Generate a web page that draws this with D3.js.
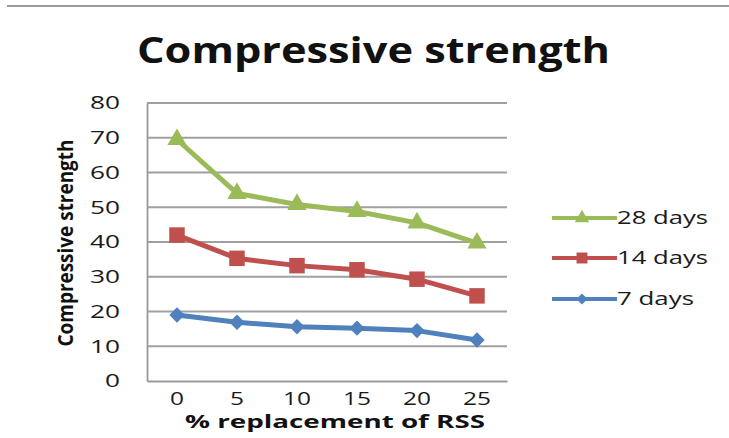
<!DOCTYPE html>
<html>
<head>
<meta charset="utf-8">
<script src="https://cdn.jsdelivr.net/npm/d3@7"></script>
<style>
  html, body { margin: 0; padding: 0; background: #fff; }
  svg { display: block; }
  text { font-family: "Open Sans", sans-serif; fill: #222; }
</style>
</head>
<body>
<svg id="chart" width="729" height="438"></svg>
<script>
// Compressive strength vs % replacement of RSS
const categories = ["0", "5", "10", "15", "20", "25"];
const days7  = [19, 16.9, 15.6, 15.2, 14.5, 11.8];
const days14 = [42, 35.3, 33.2, 32, 29.3, 24.5];
const days28 = [69.5, 54, 50.8, 48.8, 45.5, 39.7];
const yTicks = [0, 10, 20, 30, 40, 50, 60, 70, 80];
const seriesNames = ["28 days", "14 days", "7 days"];

const series = [
  { name: seriesNames[0], values: days28, color: "#9BBB59", marker: "triangle" },
  { name: seriesNames[1], values: days14, color: "#C0504D", marker: "square" },
  { name: seriesNames[2], values: days7,  color: "#4F81BD", marker: "diamond" }
];

const svg = d3.select("#chart");
const plot = { left: 147, right: 507, top: 103, bottom: 381 };

const x = d3.scaleBand().domain(categories).range([plot.left, plot.right]);
const y = d3.scaleLinear().domain([0, 80]).range([plot.bottom, plot.top]);

// digits are set wide, so each label gets a fixed advance per character
const widen = (sel, perChar) =>
  sel.attr("textLength", d => String(d).length * perChar)
     .attr("lengthAdjust", "spacingAndGlyphs");

// thin rule across the top
svg.append("line")
  .attr("x1", 7).attr("x2", 729).attr("y1", 6).attr("y2", 6)
  .attr("stroke", "#9a9a9a").attr("stroke-width", 2);

// title
svg.append("text")
  .attr("x", 137).attr("y", 63)
  .attr("font-size", 36).attr("font-weight", "bold")
  .attr("textLength", 473).attr("lengthAdjust", "spacingAndGlyphs")
  .style("fill", "#111")
  .text("Compressive strength");

// gridlines
svg.append("g").selectAll("line")
  .data(yTicks.filter(d => d > 0))
  .join("line")
  .attr("x1", plot.left).attr("x2", plot.right)
  .attr("y1", d => y(d)).attr("y2", d => y(d))
  .attr("stroke", "#a0a0a0").attr("stroke-width", 1.8);

// y axis
const yAxis = svg.append("g")
  .attr("transform", `translate(${plot.left},0)`)
  .call(d3.axisLeft(y).tickValues(yTicks).tickSize(0).tickPadding(27));
yAxis.select(".domain").attr("stroke", "#999").attr("stroke-width", 1.8);
yAxis.selectAll("text")
  .attr("font-size", 18).attr("font-family", "'Open Sans', sans-serif")
  .attr("font-weight", 500)
  .attr("text-anchor", "end")
  .style("fill", "#1a1a1a")
  .call(widen, 15);

// x axis
const xAxis = svg.append("g")
  .attr("transform", `translate(0,${plot.bottom})`)
  .call(d3.axisBottom(x).tickSize(0).tickPadding(11));
xAxis.select(".domain").attr("stroke", "#999").attr("stroke-width", 1.8);
xAxis.selectAll("text")
  .attr("font-size", 18).attr("font-family", "'Open Sans', sans-serif")
  .attr("font-weight", 500)
  .style("fill", "#1a1a1a")
  .call(widen, 14);

// axis titles
svg.append("text")
  .attr("transform", "translate(73,243) rotate(-90)")
  .attr("text-anchor", "middle")
  .attr("font-size", 21).attr("font-weight", "bold")
  .attr("textLength", 207).attr("lengthAdjust", "spacingAndGlyphs")
  .style("fill", "#111")
  .text("Compressive strength");

svg.append("text")
  .attr("x", 335).attr("y", 428)
  .attr("text-anchor", "middle")
  .attr("font-size", 17).attr("font-weight", "bold")
  .attr("textLength", 300).attr("lengthAdjust", "spacingAndGlyphs")
  .style("fill", "#111")
  .text("% replacement of RSS");

// marker shapes
const symbolFor = {
  triangle: d3.symbol().type(d3.symbolTriangle).size(160),
  square: d3.symbol().type(d3.symbolSquare).size(240),
  diamond: d3.symbol().type(d3.symbolDiamond2).size(150)
};
const legendSymbolFor = {
  triangle: d3.symbol().type(d3.symbolTriangle).size(90),
  square: d3.symbol().type(d3.symbolSquare).size(120),
  diamond: d3.symbol().type(d3.symbolDiamond2).size(80)
};

const cx = c => x(c) + x.bandwidth() / 2;
const line = d3.line().x((d, i) => cx(categories[i])).y(d => y(d));

series.forEach(s => {
  svg.append("path")
    .datum(s.values)
    .attr("d", line)
    .attr("fill", "none")
    .attr("stroke", s.color)
    .attr("stroke-width", 5)
    .attr("stroke-linejoin", "round");
  svg.append("g").selectAll("path")
    .data(s.values)
    .join("path")
    .attr("transform", (d, i) => `translate(${cx(categories[i])},${y(d)})`)
    .attr("d", symbolFor[s.marker])
    .attr("fill", s.color);
});

// legend
const legendY = [218, 258, 299];
const legendWidth = [91, 91, 77];
series.forEach((s, i) => {
  const g = svg.append("g").attr("transform", `translate(0,${legendY[i]})`);
  g.append("line")
    .attr("x1", 552).attr("x2", 617).attr("y1", 0).attr("y2", 0)
    .attr("stroke", s.color).attr("stroke-width", 4);
  g.append("path")
    .attr("transform", "translate(582,0)")
    .attr("d", legendSymbolFor[s.marker])
    .attr("fill", s.color);
  g.append("text")
    .attr("x", 617).attr("y", 0).attr("dy", "0.36em")
    .attr("font-size", 18).attr("font-weight", 500)
    .attr("textLength", legendWidth[i]).attr("lengthAdjust", "spacingAndGlyphs")
    .style("fill", "#1a1a1a")
    .text(s.name);
});
</script>
</body>
</html>
